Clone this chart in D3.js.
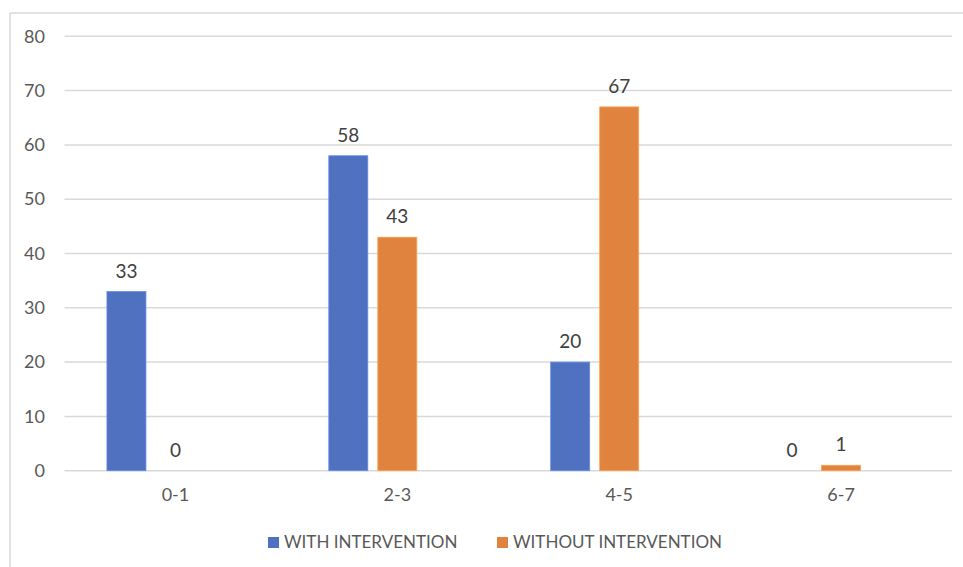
<!DOCTYPE html>
<html>
<head>
<meta charset="utf-8">
<script src="https://cdn.jsdelivr.net/npm/d3@7"></script>
<style>
  body { margin: 0; background: #fff; }
  svg { display: block; font-family: Lato, "Open Sans", sans-serif; }
</style>
</head>
<body>
<svg id="chart" width="963" height="567"></svg>
<script>
let categories = ['0-1', '2-3', '4-5', '6-7']
let seriesNames = ['WITH INTERVENTION', 'WITHOUT INTERVENTION']
let withValues = [33, 58, 20, 0]
let withoutValues = [0, 43, 67, 1]
let yTicks = [0, 10, 20, 30, 40, 50, 60, 70, 80]

let colors = ['#4F71BF', '#E0833F']

let svg = d3.select('#chart')

// chart frame (cropped screenshot: only top and left edges show)
svg.append('line').attr('x1', 10).attr('x2', 963).attr('y1', 13).attr('y2', 13)
   .attr('stroke', '#d9d9d9').attr('stroke-width', 1.5)
svg.append('line').attr('x1', 10).attr('x2', 10).attr('y1', 13).attr('y2', 567)
   .attr('stroke', '#d9d9d9').attr('stroke-width', 1.5)

let x = d3.scaleBand()
          .domain(categories)
          .range([64.5, 952])

// excel leaves a third (empty) slot, so orange sits on the category centre
let x1 = d3.scaleBand()
           .domain(['a', 'b', 'c'])
           .range([0, x.bandwidth()])
           .paddingInner(0.204)
           .paddingOuter(0.866)

let y = d3.scaleLinear()
          .domain([0, 80])
          .range([470.7, 36.3])

// gridlines
svg.append('g')
   .selectAll('line')
   .data(yTicks)
   .enter()
   .append('line')
   .attr('x1', 64.5)
   .attr('x2', 952)
   .attr('y1', (d) => y(d))
   .attr('y2', (d) => y(d))
   .attr('stroke', '#d9d9d9')
   .attr('stroke-width', 1.5)

let yAxis = d3.axisLeft(y).tickValues(yTicks).tickSize(0).tickPadding(0)
svg.append('g')
   .attr('transform', 'translate(45,0)')
   .call(yAxis)
   .call((g) => g.select('.domain').remove())
   .selectAll('text')
   .attr('font-size', 18)
   .attr('font-family', 'Lato')
   .attr('fill', '#595959')

let xAxis = d3.axisBottom(x).tickSize(0).tickPadding(0)
svg.append('g')
   .attr('transform', 'translate(0,488)')
   .call(xAxis)
   .call((g) => g.select('.domain').remove())
   .selectAll('text')
   .attr('font-size', 18)
   .attr('font-family', 'Lato')
   .attr('fill', '#595959')

let allSeries = [withValues, withoutValues]
let slots = ['a', 'b']

allSeries.forEach((values, s) => {
  let g = svg.append('g')
  g.selectAll('rect')
   .data(values)
   .enter()
   .append('rect')
   .attr('x', (d, i) => x(categories[i]) + x1(slots[s]))
   .attr('width', x1.bandwidth())
   .attr('y', (d) => y(d))
   .attr('height', (d) => y(0) - y(d))
   .attr('fill', colors[s])
   .attr('stroke', d3.color(colors[s]).brighter(0.6))
   .attr('stroke-width', 0.8)

  g.selectAll('text')
   .data(values)
   .enter()
   .append('text')
   .attr('x', (d, i) => x(categories[i]) + x1(slots[s]) + x1.bandwidth() / 2)
   .attr('y', (d) => y(d) - 14)
   .attr('text-anchor', 'middle')
   .attr('font-size', 19)
   .attr('fill', '#404040')
   .text((d) => d)
})

// legend
let legendX = [268, 497]
let legend = svg.append('g')
seriesNames.forEach((name, i) => {
  legend.append('rect')
        .attr('x', legendX[i])
        .attr('y', 537)
        .attr('width', 11)
        .attr('height', 11)
        .attr('fill', colors[i])
  legend.append('text')
        .attr('x', legendX[i] + 16)
        .attr('y', 548)
        .attr('font-size', 17)
        .attr('fill', '#595959')
        .text(name)
})
</script>
</body>
</html>
